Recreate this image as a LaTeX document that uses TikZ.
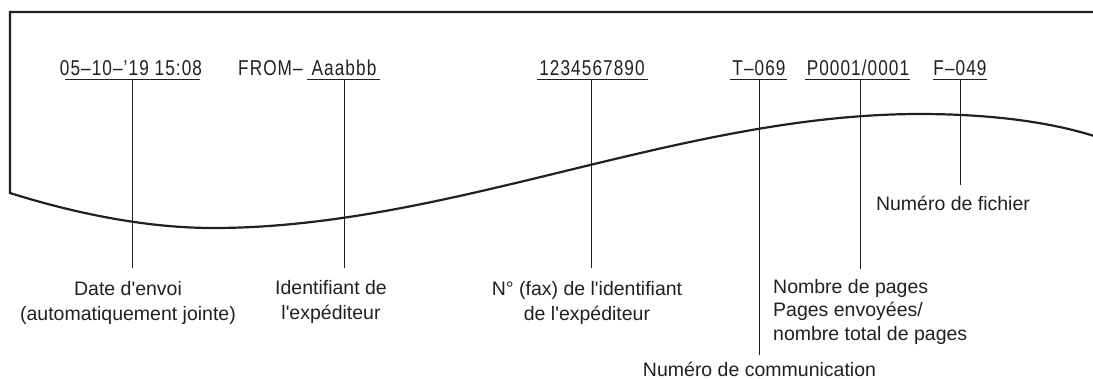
\documentclass[tikz,border=0pt]{standalone}
\usepackage{fontspec}
\setmainfont{Liberation Sans}[Ligatures=TeXOff]
\newfontfamily\topfont[FakeStretch=0.8,LetterSpace=5]{Liberation Sans}
\begin{document}
\begin{tikzpicture}[x=1pt,y=-1pt,
  ink/.style={color={rgb,255:red,35;green,31;blue,32}},
  frame/.style={ink, line width=2.2pt, line join=miter},
  uline/.style={ink, line width=1.3pt},
  leader/.style={ink, line width=1pt},
  toptxt/.style={ink, anchor=base, inner sep=0pt, font=\topfont\fontsize{21.5}{24}\selectfont},
  lab/.style={ink, anchor=base, inner sep=0pt, align=center, font=\fontsize{19.5}{24.8}\selectfont},
  labl/.style={ink, anchor=base west, inner sep=0pt, align=left, font=\fontsize{19.5}{23.6}\selectfont}]
\useasboundingbox (0,0) rectangle (1093,378);
% paper edge
\draw[frame] (1094,12) -- (10,12) -- (10,193)
  .. controls (80,215) and (150,228) .. (213,228)
  .. controls (450,228) and (680,114) .. (920,114)
  .. controls (990,114) and (1050,122) .. (1094,136);
% top header texts
\node[toptxt] (date) at (131,75) {05–10–’19 15:08};
\node[toptxt, anchor=base west] (from) at (238,75) {FROM–};
\node[toptxt] (id) at (344,75) {Aaabbb};
\node[toptxt] (num) at (592,75) {1234567890};
\node[toptxt] (tnum) at (759,75) {T–069};
\node[toptxt] (pg) at (858,75) {P0001/0001};
\node[toptxt] (file) at (960,75) {F–049};
% underlines
\draw[uline] (65,79.5) -- (200,79.5);
\draw[uline] (307,79.5) -- (380,79.5);
\draw[uline] (537,79.5) -- (648,79.5);
\draw[uline] (730,79.5) -- (787,79.5);
\draw[uline] (805,79.5) -- (910,79.5);
\draw[uline] (933,79.5) -- (987,79.5);
% bottom labels (base = baseline of the last line)
\node[lab] (ldate) at (128,320) {Date d'envoi\\(automatiquement jointe)};
\node[lab] (lid) at (331,319.5) {Identifiant de\\l'expéditeur};
\node[lab] (lnum) at (587,320) {N° (fax) de l'identifiant\\de l'expéditeur};
\node[labl] (lpg) at (773,340.5) {Nombre de pages\\Pages envoyées/\\nombre total de pages};
\node[lab] (ltnum) at (759.5,376) {Numéro de communication};
\node[lab] (lfile) at (953,210) {Numéro de fichier};
% leader coordinates
\coordinate (a1) at (132,79.5);  \coordinate (a2) at (132,268);
\coordinate (b1) at (344,79.5);  \coordinate (b2) at (344,268);
\coordinate (c1) at (591,79.5);  \coordinate (c2) at (591,268);
\coordinate (d1) at (759.5,79.5);\coordinate (d2) at (759.5,355);
\coordinate (e1) at (860,79.5);  \coordinate (e2) at (860,269);
\coordinate (f1) at (960,79.5);  \coordinate (f2) at (960,185);
\draw[leader] (a1) -- (a2);
\draw[leader] (b1) -- (b2);
\draw[leader] (c1) -- (c2);
\draw[leader] (d1) -- (d2);
\draw[leader] (e1) -- (e2);
\draw[leader] (f1) -- (f2);
\end{tikzpicture}
\end{document}
